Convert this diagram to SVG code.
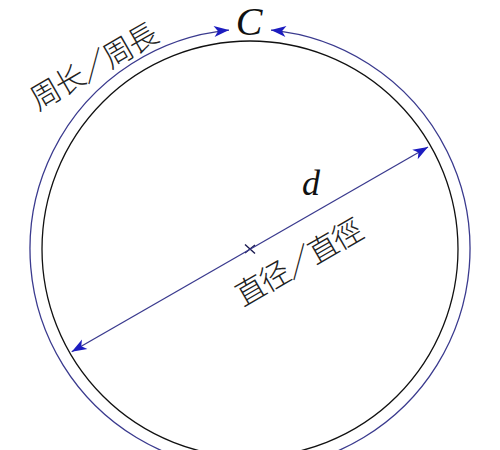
<svg xmlns="http://www.w3.org/2000/svg" width="500" height="450" viewBox="0 0 500 450">
<style>
.cjk{font-family:"Noto Sans CJK SC","Noto Sans CJK TC",sans-serif;font-size:30px;fill:#222;font-weight:300;letter-spacing:-2px}
.math{font-family:"Liberation Serif",serif;font-style:italic;fill:#111}
.blue{fill:none;stroke:#3a3a8e;stroke-width:1.3}
</style>
<defs>
<marker id="ah" markerUnits="userSpaceOnUse" markerWidth="20" markerHeight="14" viewBox="-16 -7 17 14" refX="0" refY="0" orient="auto-start-reverse">
<path d="M0,0 L-15,-5.5 L-11,0 L-15,5.5 Z" fill="#1c1cc0"/>
</marker>
</defs>
<rect width="500" height="450" fill="#fff"/>
<g id="circle">
<circle cx="250" cy="249" r="208" fill="none" stroke="#111" stroke-width="1.3"/>
</g>
<g id="center">
<path d="M245,244.5 L255,253.5 M245,253 L255,245" stroke="#1a1a50" stroke-width="1.4"/>
</g>
<g id="connectors">
<path class="blue" d="M229,30.1 A220,220 0 1 0 271,30.1" marker-start="url(#ah)" marker-end="url(#ah)"/>
<path class="blue" d="M71.7,351.7 L428,147" marker-start="url(#ah)" marker-end="url(#ah)"/>
</g>
<g id="labels">
<text class="math" x="249" y="35" font-size="40" text-anchor="middle">C</text>
<text class="math" x="311" y="195" font-size="36" text-anchor="middle">d</text>
<text class="cjk" transform="translate(93,66.5) rotate(-30)" x="0" y="11" text-anchor="middle">周长／周長</text>
<text class="cjk" transform="translate(298,262.5) rotate(-30)" x="0" y="11" text-anchor="middle">直径／直徑</text>
</g>
</svg>
